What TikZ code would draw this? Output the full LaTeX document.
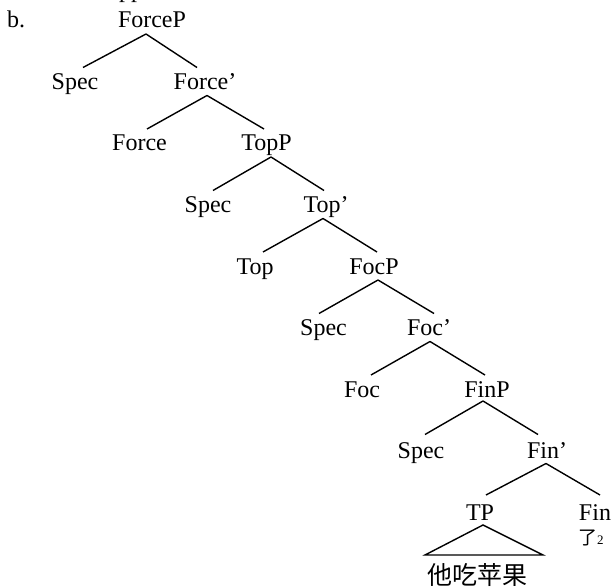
\documentclass[tikz,border=0pt]{standalone}
\usepackage{fontspec}
\setmainfont{Liberation Serif}
\newfontfamily\cjk{Noto Sans CJK SC}
\begin{document}
\begin{tikzpicture}[x=1pt,y=-1pt,
    lbl/.style={anchor=base, inner sep=0pt, font=\fontsize{24}{28}\selectfont},
    edge/.style={line width=1.4pt}]
\useasboundingbox (0,0) rectangle (613,588);
\clip (0,0) rectangle (613,588);

% tail of the preceding line, cut at the top edge
\node[lbl, anchor=base west] (prev) at (119,-2.5) {pp};

\node[lbl, anchor=base west] (ex) at (7,27.5) {b.};

% node labels, placed by baseline
\node[lbl] (ForceP) at (152,28)    {ForceP};
\node[lbl] (SpecA)  at (75,89.5)   {Spec};
\node[lbl] (ForceB) at (205,89.5)  {Force’};
\node[lbl] (Force)  at (139.5,151) {Force};
\node[lbl] (TopP)   at (266.5,151) {TopP};
\node[lbl] (SpecB)  at (208,212.5) {Spec};
\node[lbl] (TopB)   at (326,212.5) {Top’};
\node[lbl] (Top)    at (255,274)   {Top};
\node[lbl] (FocP)   at (374,274)   {FocP};
\node[lbl] (SpecC)  at (323.5,335.5) {Spec};
\node[lbl] (FocB)   at (429,335.5) {Foc’};
\node[lbl] (Foc)    at (362,397)   {Foc};
\node[lbl] (FinP)   at (487,397)   {FinP};
\node[lbl] (SpecD)  at (421,458.5) {Spec};
\node[lbl] (FinB)   at (547,458.5) {Fin’};
\node[lbl] (TP)     at (480,520)   {TP};
\node[lbl] (Fin)    at (595,520)   {Fin};

\node[anchor=base west, inner sep=0pt] (le) at (578,544)
  {{\cjk\fontsize{19}{19}\selectfont 了}{\fontsize{13}{13}\selectfont 2}};
\node[anchor=center, inner sep=0pt] (words) at (477,575)
  {\cjk\fontsize{25}{25}\selectfont 他吃苹果};

% branches: from just below the mother to just above each daughter
\draw[edge] ([shift={(-6pt,-6pt)}]ForceP.base) -- ([shift={(8pt,22pt)}]SpecA.base);
\draw[edge] ([shift={(-6pt,-6pt)}]ForceP.base) -- ([shift={(-8pt,22pt)}]ForceB.base);

\draw[edge] ([shift={(2pt,-6pt)}]ForceB.base) -- ([shift={(7.5pt,22pt)}]Force.base);
\draw[edge] ([shift={(2pt,-6pt)}]ForceB.base) -- ([shift={(-2.5pt,22pt)}]TopP.base);

\draw[edge] ([shift={(4.5pt,-6pt)}]TopP.base) -- ([shift={(5pt,22pt)}]SpecB.base);
\draw[edge] ([shift={(4.5pt,-6pt)}]TopP.base) -- ([shift={(-2pt,22pt)}]TopB.base);

\draw[edge] ([shift={(-3pt,-6pt)}]TopB.base) -- ([shift={(8pt,22pt)}]Top.base);
\draw[edge] ([shift={(-3pt,-6pt)}]TopB.base) -- ([shift={(3pt,22pt)}]FocP.base);

\draw[edge] ([shift={(4pt,-6pt)}]FocP.base) -- ([shift={(-4.5pt,22pt)}]SpecC.base);
\draw[edge] ([shift={(4pt,-6pt)}]FocP.base) -- ([shift={(5pt,22pt)}]FocB.base);

\draw[edge] ([shift={(1pt,-6pt)}]FocB.base) -- ([shift={(9pt,22pt)}]Foc.base);
\draw[edge] ([shift={(1pt,-6pt)}]FocB.base) -- ([shift={(-2pt,22pt)}]FinP.base);

\draw[edge] ([shift={(-4pt,-4pt)}]FinP.base) -- ([shift={(4pt,24pt)}]SpecD.base);
\draw[edge] ([shift={(-4pt,-4pt)}]FinP.base) -- ([shift={(-9pt,24pt)}]FinB.base);

\draw[edge] ([shift={(-1pt,-5pt)}]FinB.base) -- ([shift={(6pt,25pt)}]TP.base);
\draw[edge] ([shift={(-1pt,-5pt)}]FinB.base) -- ([shift={(5pt,25pt)}]Fin.base);

% triangle over the unanalysed TP
\draw[edge] ([shift={(3pt,-5pt)}]TP.base) -- ([shift={(-55pt,-35pt)}]TP.base)
  -- ([shift={(63pt,-35pt)}]TP.base) -- cycle;
\end{tikzpicture}
\end{document}
